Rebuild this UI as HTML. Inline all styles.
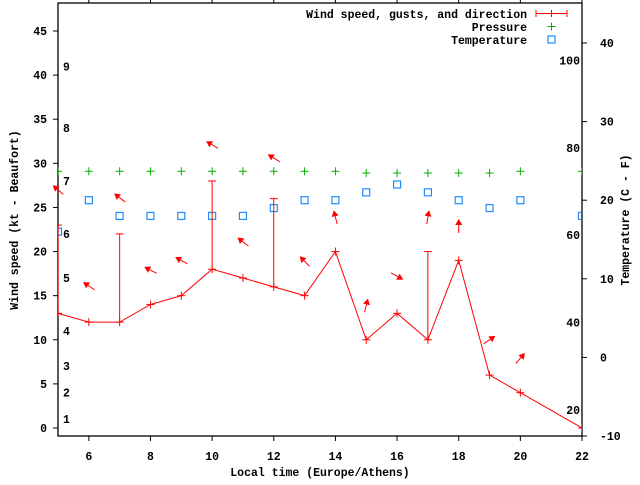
<!DOCTYPE html>
<html><head><meta charset="utf-8"><style>
html,body{margin:0;padding:0;background:#fff}
svg text{font-family:"Liberation Mono",monospace;font-weight:bold;font-size:11.5px;fill:#000}
</style></head><body>
<svg id="c" width="640" height="480" xmlns="http://www.w3.org/2000/svg"></svg>
<script>
const hours=[5,6,7,8,9,10,11,12,13,14,15,16,17,18,19,20,22];
const windSpeed=[13,12,12,14,15,18,17,16,15,20,10,13,10,19,6,4,0];
const gustHours=[5,7,10,12,17];
const gustValues=[23,22,28,26,20];
const arrowHours=[5,6,7,8,9,10,11,12,13,14,15,16,17,18,19,20];
const arrowLevel=[27,16.1,26.1,17.9,19,32.1,21.1,30.6,18.9,23.9,13.9,17.2,23.9,22.9,10,7.9];
const arrowDir=[311,304,308,297,299,301,308,301,315,346,14,119,9,0,56,41];
const pressureHours=[5,6,7,8,9,10,11,12,13,14,15,16,17,18,19,20,22];
const pressure=[29.1,29.1,29.1,29.1,29.1,29.1,29.1,29.1,29.1,29.1,28.9,28.9,28.9,28.9,28.9,29.1,29.1];
const tempHours=[5,6,7,8,9,10,11,12,13,14,15,16,17,18,19,20,22];
const temperature=[16,20,18,18,18,18,18,19,20,20,21,22,21,20,19,20,18];
const xTicks=[6,8,10,12,14,16,18,20,22];
const yTicks=[0,5,10,15,20,25,30,35,40,45];
const cTicks=[-10,0,10,20,30,40];
const fLabels=[20,40,60,80,100];
const beaufortLabels=[1,2,3,4,5,6,7,8,9];
const beaufortKt=[1,4,7,11,17,22,28,34,41];

const L=58,R=582,T=3,B=436;
const X=h=>L+(h-5)*(R-L)/17;
const Y=v=>428-v*(428-31)/45;
const YC=c=>357.4-c*7.86;
const svg=document.getElementById('c');
const NS='http://www.w3.org/2000/svg';
function mk(tag,attrs,parent){const e=document.createElementNS(NS,tag);for(const k in attrs)e.setAttribute(k,attrs[k]);(parent||svg).appendChild(e);return e;}
function txt(s,x,y,anchor,parent){const t=mk('text',{x:x,y:y,'text-anchor':anchor||'start'},parent);t.textContent=s;return t;}

// frame
const frame=mk('rect',{x:L,y:T,width:R-L,height:B-T,fill:'none',stroke:'#000','stroke-width':1.3});



const xa=mk('g',{});


xTicks.forEach(h=>{
  mk('line',{x1:X(h),x2:X(h),y1:B,y2:B+5,stroke:'#000'},xa);
  mk('line',{x1:X(h),x2:X(h),y1:T,y2:T-4,stroke:'#000'},xa);
  txt(String(h),X(h),460,'middle',xa);
});
const xt=txt('Local time (Europe/Athens)',320,476,'middle');



const ya=mk('g',{});


yTicks.forEach(v=>{
  mk('line',{x1:L-5,x2:L,y1:Y(v),y2:Y(v),stroke:'#000'},ya);
  txt(String(v),47,Y(v)+4,'end',ya);
});
const yt=txt('Wind speed (kt - Beaufort)',0,0,'middle');
yt.setAttribute('transform','translate(18,220) rotate(-90)');



const bf=mk('g',{});


beaufortLabels.forEach((b,i)=>txt(String(b),63,Y(beaufortKt[i])+4,'start',bf));

const ra=mk('g',{});


cTicks.forEach(c=>{
  mk('line',{x1:R,x2:R+5,y1:YC(c),y2:YC(c),stroke:'#000'},ra);
  txt(String(c),600,YC(c)+4,'start',ra);
});
fLabels.forEach(f=>txt(String(f),580,YC((f-32)*5/9)+4,'end',ra));
const rt=txt('Temperature (C - F)',0,0,'middle');
rt.setAttribute('transform','translate(629,220) rotate(-90)');



function plus(x,y,col,s,p){mk('line',{x1:x-s,x2:x+s,y1:y,y2:y,stroke:col},p);mk('line',{x1:x,x2:x,y1:y-s,y2:y+s,stroke:col},p);}

const clip=mk('clipPath',{id:'pc'});
mk('rect',{x:L,y:T,width:R-L,height:B-T},clip);

// pressure
const pg=mk('g',{'clip-path':'url(#pc)'});


pressureHours.forEach((h,i)=>plus(X(h),Y(pressure[i]),'#00b000',4,pg));

// temperature
const tg=mk('g',{'clip-path':'url(#pc)'});


tempHours.forEach((h,i)=>mk('rect',{x:X(h)-3.5,y:YC(temperature[i])-3.5,width:7,height:7,fill:'none',stroke:'#1e8cff','stroke-width':1.2},tg));

// wind
const wg=mk('g',{'clip-path':'url(#pc)'});


mk('polyline',{points:hours.map((h,i)=>X(h)+','+Y(windSpeed[i])).join(' '),fill:'none',stroke:'#f00','stroke-width':1},wg);
hours.forEach((h,i)=>plus(X(h),Y(windSpeed[i]),'#f00',4,wg));
gustHours.forEach((h,i)=>{
  const s=windSpeed[hours.indexOf(h)];
  mk('line',{x1:X(h),x2:X(h),y1:Y(s),y2:Y(gustValues[i]),stroke:'#f00'},wg);
  mk('line',{x1:X(h)-4,x2:X(h)+4,y1:Y(gustValues[i]),y2:Y(gustValues[i]),stroke:'#f00'},wg);
});
const ag=mk('g',{});


arrowHours.forEach((h,i)=>{
  const cx=X(h),cy=Y(arrowLevel[i]);
  const g=mk('g',{transform:`translate(${cx},${cy}) rotate(${arrowDir[i]})`},ag);
  mk('line',{x1:0,y1:7,x2:0,y2:-4,stroke:'#f00','stroke-width':1},g);
  mk('polygon',{points:'0,-7 -3.5,-1 3.5,-1',fill:'#f00'},g);
});

// legend
const lg=mk('g',{});


txt('Wind speed, gusts, and direction',527,18,'end',lg);
mk('line',{x1:536,x2:567,y1:13.5,y2:13.5,stroke:'#f00'},lg);
mk('line',{x1:536,x2:536,y1:10,y2:17,stroke:'#f00'},lg);
mk('line',{x1:567,x2:567,y1:10,y2:17,stroke:'#f00'},lg);
mk('line',{x1:551.5,x2:551.5,y1:10,y2:17,stroke:'#f00'},lg);
txt('Pressure',527,31,'end',lg);
plus(551.5,26.5,'#00b000',4,lg);
txt('Temperature',527,44,'end',lg);
mk('rect',{x:548,y:36,width:7,height:7,fill:'none',stroke:'#1e8cff','stroke-width':1.2},lg);
</script>
</body></html>
